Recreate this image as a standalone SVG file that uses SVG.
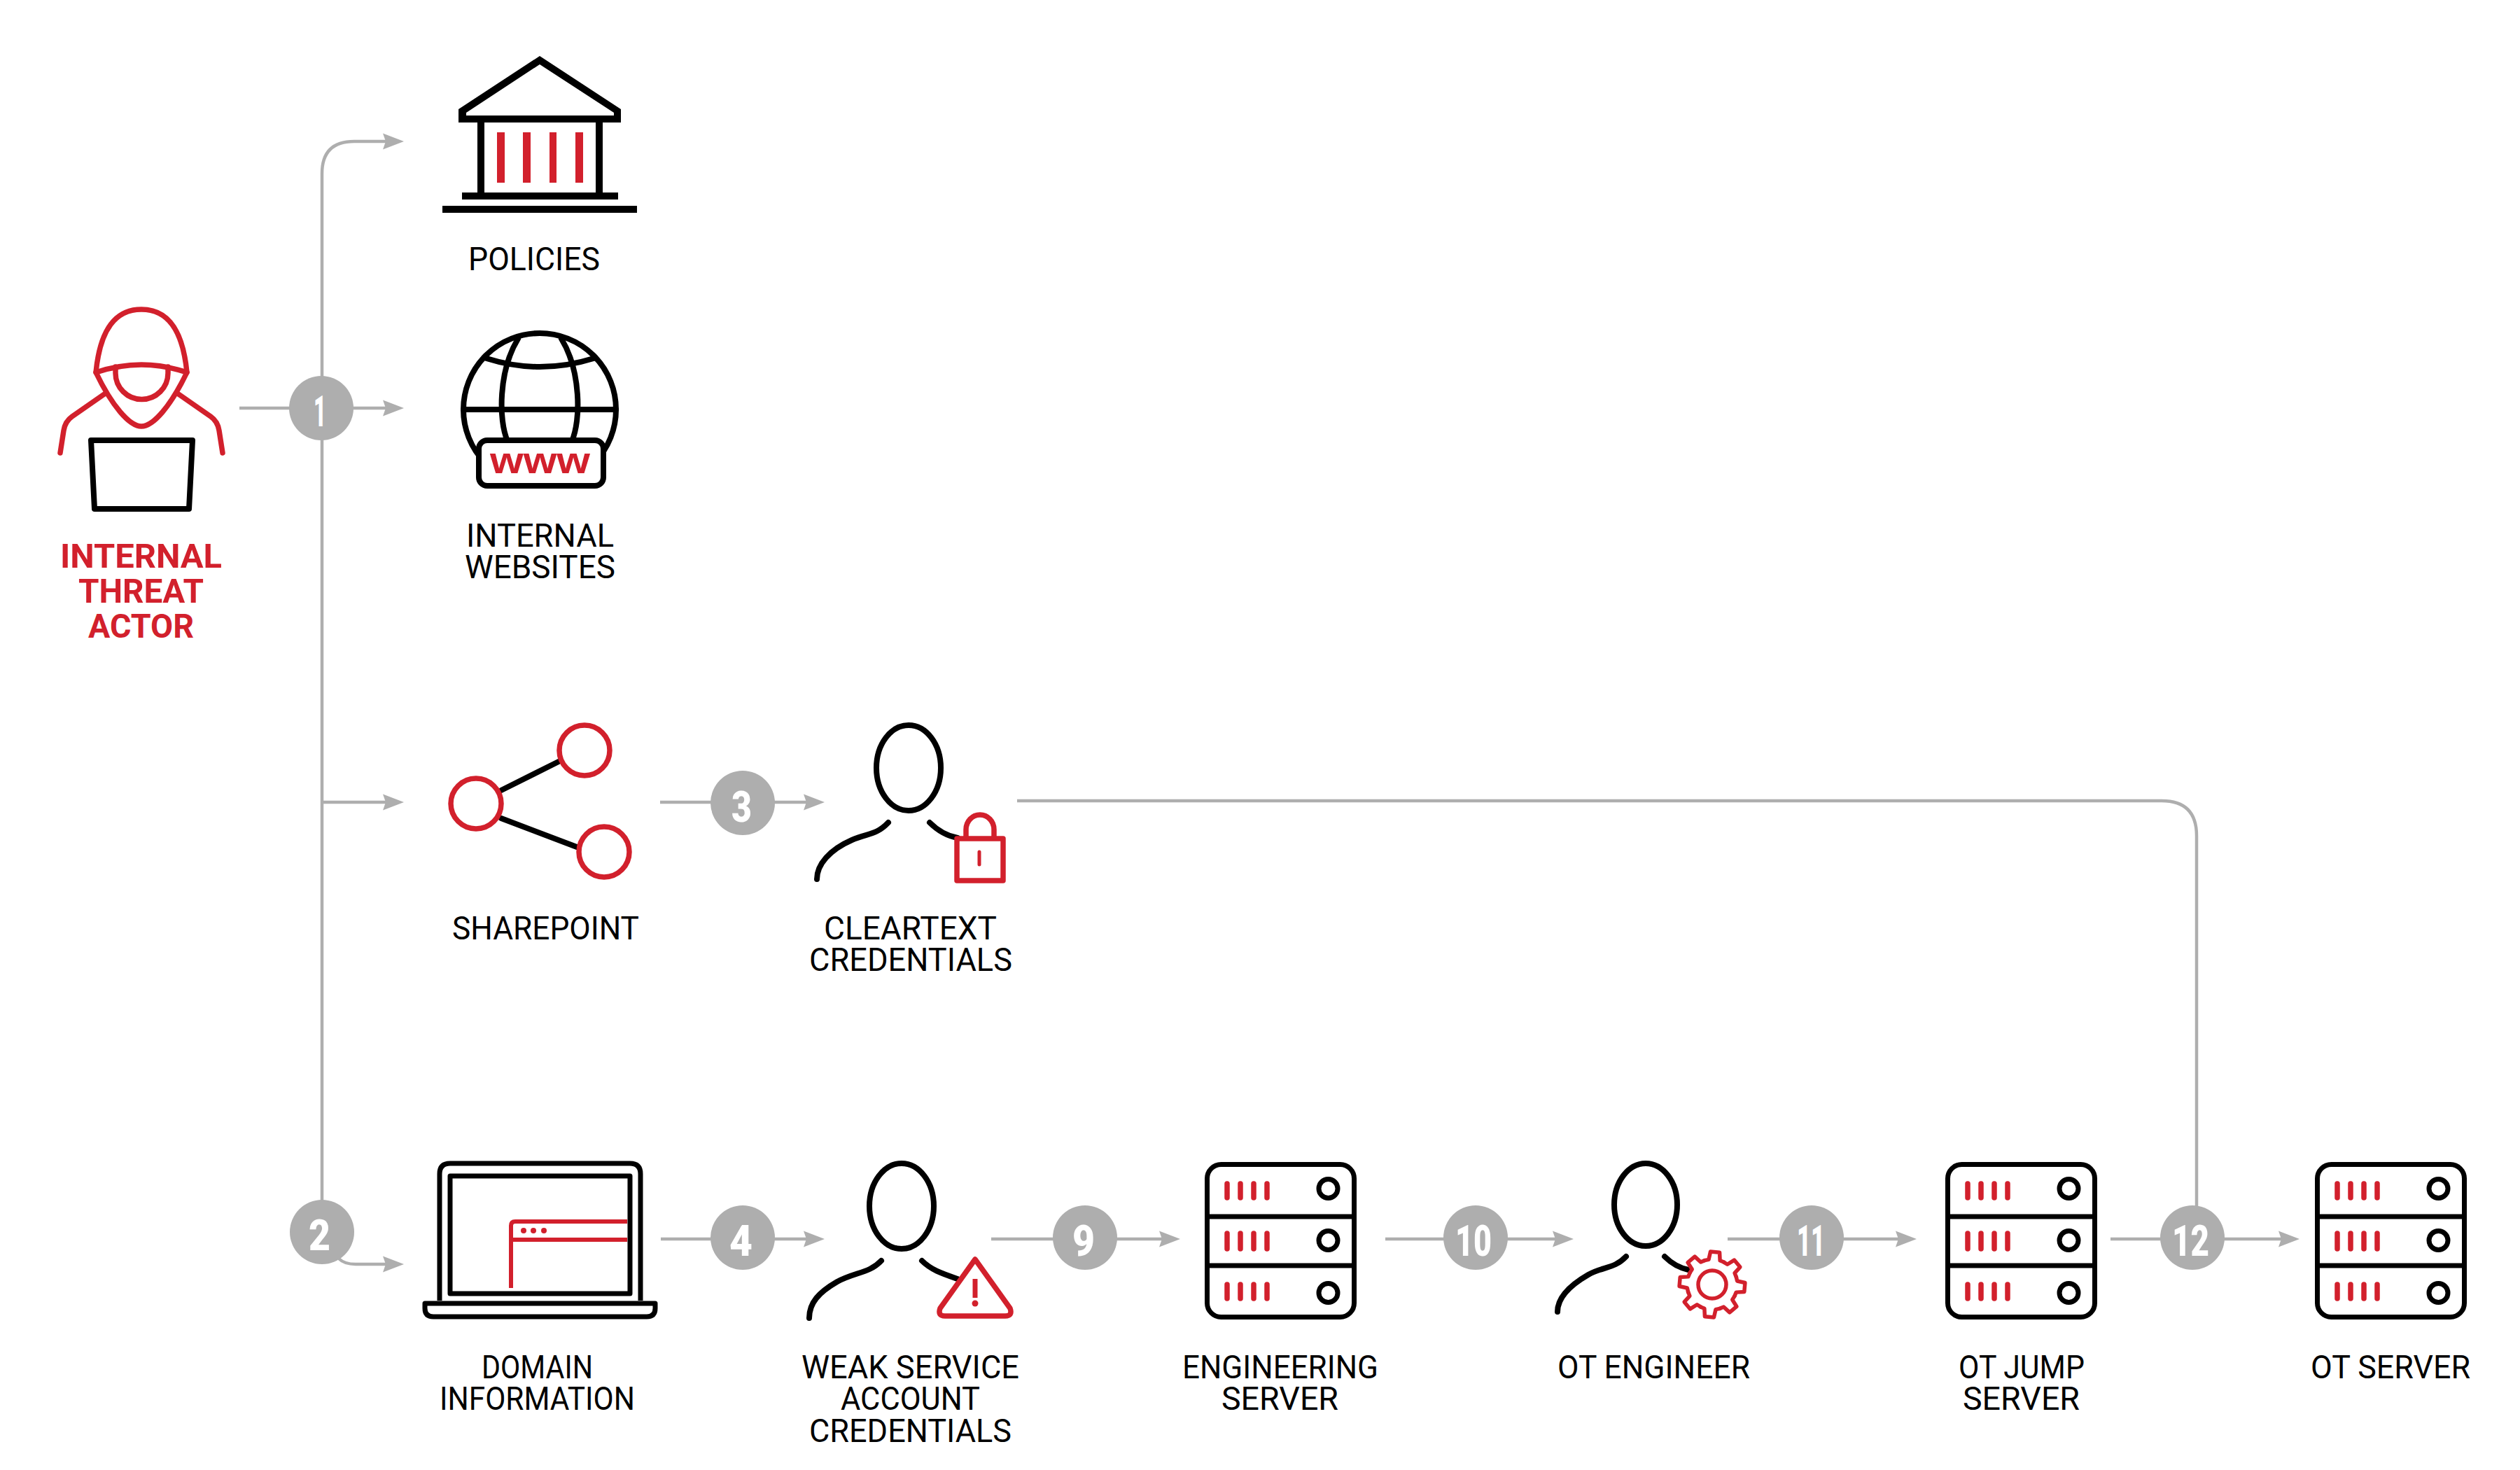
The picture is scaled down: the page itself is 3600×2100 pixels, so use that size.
<svg xmlns="http://www.w3.org/2000/svg" xmlns:xlink="http://www.w3.org/1999/xlink" width="3600" height="2100" viewBox="0 0 3600 2100">
<style>
.k{fill:none;stroke:#000;stroke-width:8;stroke-linecap:round;stroke-linejoin:round}
.r{fill:none;stroke:#d2202c;stroke-width:7.5;stroke-linecap:round;stroke-linejoin:round}
.g{fill:none;stroke:#d2202c;stroke-width:5.5;stroke-linecap:round;stroke-linejoin:round}
.c{fill:none;stroke:#aeaeae;stroke-width:4.5}
.b{fill:#aeaeae}
.red{fill:#d2202c}
.l{font-family:Roboto,"Liberation Sans",sans-serif;font-size:46px;fill:#000}
.t{font-family:Roboto,"Liberation Sans",sans-serif;font-size:49px;font-weight:700;fill:#d2202c}
.n{font-family:Roboto,"Liberation Sans",sans-serif;font-size:62px;font-weight:900;fill:#fff}
</style>
<defs>
<marker id="ah" markerUnits="userSpaceOnUse" markerWidth="32" markerHeight="26" viewBox="0 -13 32 26" refX="19" refY="0" orient="auto"><path d="M0,-11.5L30,0L0,11.5L4,0Z" fill="#aeaeae"/></marker>
<g id="server">
<rect x="3.5" y="3.5" width="210" height="218" rx="20" fill="#fff" stroke="#000" stroke-width="7"/>
<path d="M3,78H214M3,148H214" stroke="#000" stroke-width="7" fill="none"/>
<path d="M32,31V51M51,31V51M70,31V51M89,31V51M32,102V124M51,102V124M70,102V124M89,102V124M32,175V195M51,175V195M70,175V195M89,175V195" stroke="#d2202c" stroke-width="7.5" stroke-linecap="round" fill="none"/>
<circle cx="176.5" cy="38" r="13.5" fill="none" stroke="#000" stroke-width="7"/>
<circle cx="176.5" cy="112" r="13.5" fill="none" stroke="#000" stroke-width="7"/>
<circle cx="176.5" cy="187" r="13.5" fill="none" stroke="#000" stroke-width="7"/>
</g>
<path id="gs" d="M-13.78,-33.26L-8.1,-35.08L-6.54,-46.54L6.54,-46.54L8.1,-35.08L13.78,-33.26" class="g"/>
</defs>

<g id="connectors">
<path class="c" d="M342,583H566" marker-end="url(#ah)"/>
<path class="c" d="M506,202Q460,202 460,248V1760"/>
<path class="c" d="M506,202H566" marker-end="url(#ah)"/>
<path class="c" d="M460,1146H566" marker-end="url(#ah)"/>
<path class="c" d="M484,1798Q492,1806 508,1806H566" marker-end="url(#ah)"/>
<path class="c" d="M943,1146H1167" marker-end="url(#ah)"/>
<path class="c" d="M1453,1144H3088Q3138,1144 3138,1194V1730"/>
<path class="c" d="M944,1770H1167" marker-end="url(#ah)"/>
<path class="c" d="M1416,1770H1675" marker-end="url(#ah)"/>
<path class="c" d="M1979,1770H2237" marker-end="url(#ah)"/>
<path class="c" d="M2468,1770H2727" marker-end="url(#ah)"/>
<path class="c" d="M3015,1770H3274" marker-end="url(#ah)"/>
</g>

<g id="badges">
<g id="badge-1"><circle class="b" cx="459" cy="583" r="46"/><text class="n" x="448" y="609" textLength="18" lengthAdjust="spacingAndGlyphs">1</text></g>
<g id="badge-2"><circle class="b" cx="460" cy="1760" r="46"/><text class="n" x="441" y="1786" textLength="31" lengthAdjust="spacingAndGlyphs">2</text></g>
<g id="badge-3"><circle class="b" cx="1061" cy="1147" r="46"/><text class="n" x="1045" y="1174" textLength="29" lengthAdjust="spacingAndGlyphs">3</text></g>
<g id="badge-4"><circle class="b" cx="1061" cy="1768" r="46"/><text class="n" x="1042" y="1794" textLength="33" lengthAdjust="spacingAndGlyphs">4</text></g>
<g id="badge-9"><circle class="b" cx="1550" cy="1768" r="46"/><text class="n" x="1532" y="1794" textLength="32" lengthAdjust="spacingAndGlyphs">9</text></g>
<g id="badge-10"><circle class="b" cx="2108" cy="1768" r="46"/><text class="n" x="2079" y="1794" textLength="52" lengthAdjust="spacingAndGlyphs">10</text></g>
<g id="badge-11"><circle class="b" cx="2588" cy="1768" r="46"/><text class="n" x="2567" y="1794" textLength="40" lengthAdjust="spacingAndGlyphs">11</text></g>
<g id="badge-12"><circle class="b" cx="3132" cy="1768" r="46"/><text class="n" x="3103" y="1794" textLength="53" lengthAdjust="spacingAndGlyphs">12</text></g>
</g>

<g id="internal-threat-actor">
<path class="r" d="M137,532C143,470 165,442 202,442C239,442 261,470 267,532C244,580 219,609 202,609C185,609 160,580 137,532Z"/>
<path class="r" d="M137,532Q170,521 202,521Q234,521 267,532"/>
<path class="r" d="M165,524V533A37.5,37.5 0 0 0 240,533V524"/>
<path class="r" d="M149,563L103,595Q93,602 91,615L86,647M255,563L301,595Q311,602 313,615L318,647"/>
<path class="k" d="M130,629H275L270,727H135Z"/>
<text class="t" x="86" y="811" textLength="231" lengthAdjust="spacingAndGlyphs">INTERNAL</text>
<text class="t" x="112" y="861" textLength="179" lengthAdjust="spacingAndGlyphs">THREAT</text>
<text class="t" x="126" y="911" textLength="151" lengthAdjust="spacingAndGlyphs">ACTOR</text>
</g>

<g id="policies">
<path fill-rule="evenodd" d="M771,80L887,156V175H655V156ZM771,92L666,161V165H877V161Z" fill="#000"/>
<path d="M682,175H692V275H682ZM851,175H861V275H851ZM660,275H883V285H660ZM632,294H910V304H632Z" fill="#000"/>
<path class="red" d="M710,189H721V261H710ZM747,189H758V261H747ZM785,189H795V261H785ZM822,189H833V261H822Z"/>
<text class="l" x="669" y="386" textLength="188" lengthAdjust="spacingAndGlyphs">POLICIES</text>
</g>

<g id="internal-websites">
<circle class="k" cx="771" cy="585" r="109"/>
<path class="k" d="M662,585H880"/>
<path class="k" d="M740,484C712,530 712,600 725,630M802,484C830,530 830,600 817,630"/>
<path class="k" d="M695,512Q771,536 848,512"/>
<rect x="684" y="629" width="178" height="65" rx="12" fill="#fff" stroke="#000" stroke-width="8"/>
<text x="700" y="676" textLength="143" lengthAdjust="spacingAndGlyphs" font-family="'Liberation Sans',sans-serif" font-size="53" font-weight="700" fill="#d2202c">www</text>
<text class="l" x="666" y="781" textLength="211" lengthAdjust="spacingAndGlyphs">INTERNAL</text>
<text class="l" x="664" y="826" textLength="215" lengthAdjust="spacingAndGlyphs">WEBSITES</text>
</g>

<g id="sharepoint">
<path class="k" d="M716,1129L798,1088M716,1169L824,1210" stroke-linecap="butt"/>
<circle class="r" cx="835" cy="1072" r="36"/>
<circle class="r" cx="680" cy="1148" r="36"/>
<circle class="r" cx="863" cy="1217" r="36"/>
<text class="l" x="646" y="1342" textLength="267" lengthAdjust="spacingAndGlyphs">SHAREPOINT</text>
</g>

<g id="cleartext-credentials">
<ellipse class="k" cx="1298" cy="1097" rx="46" ry="61"/>
<path class="k" d="M1269,1175C1252,1193 1240,1190 1217,1200C1185,1214 1167,1235 1167,1256M1328,1175C1340,1187 1352,1194 1368,1197"/>
<rect class="r" x="1367" y="1198" width="66" height="60"/>
<path class="r" d="M1380,1196V1185A20,21 0 0 1 1420,1185V1196"/>
<path class="r" d="M1399,1217V1235" style="stroke-width:5"/>
<text class="l" x="1177" y="1342" textLength="247" lengthAdjust="spacingAndGlyphs">CLEARTEXT</text>
<text class="l" x="1156" y="1387" textLength="290" lengthAdjust="spacingAndGlyphs">CREDENTIALS</text>
</g>

<g id="domain-information">
<path d="M628,1858V1677Q628,1662 643,1662H900Q915,1662 915,1677V1858" fill="none" stroke="#000" stroke-width="7"/>
<rect x="643" y="1680" width="257" height="168" fill="none" stroke="#000" stroke-width="7" stroke-linejoin="round"/>
<path d="M730,1840V1751Q730,1745 736,1745H896M730,1771H896" fill="none" stroke="#d2202c" stroke-width="6"/>
<circle class="red" cx="748" cy="1758" r="4"/><circle class="red" cx="762" cy="1758" r="4"/><circle class="red" cx="777" cy="1758" r="4"/>
<path d="M607,1862H936V1869Q936,1881 924,1881H619Q607,1881 607,1869Z" fill="#fff" stroke="#000" stroke-width="7" stroke-linejoin="round"/>
<text class="l" x="688" y="1969" textLength="159" lengthAdjust="spacingAndGlyphs">DOMAIN</text>
<text class="l" x="628" y="2014" textLength="279" lengthAdjust="spacingAndGlyphs">INFORMATION</text>
</g>

<g id="weak-service-account-credentials">
<ellipse class="k" cx="1288" cy="1723" rx="46" ry="61"/>
<path class="k" d="M1259,1801C1242,1819 1222,1817 1196,1831C1170,1846 1156,1861 1156,1883M1317,1801C1330,1814 1345,1819 1368,1827"/>
<path class="r" d="M1393,1799L1443,1869Q1447,1880 1436,1880H1350Q1339,1880 1343,1869Z"/>
<path d="M1393,1827V1854" stroke="#d2202c" stroke-width="7" fill="none"/>
<circle class="red" cx="1393" cy="1862" r="4.5"/>
<text class="l" x="1145" y="1969" textLength="311" lengthAdjust="spacingAndGlyphs">WEAK SERVICE</text>
<text class="l" x="1201" y="2014" textLength="199" lengthAdjust="spacingAndGlyphs">ACCOUNT</text>
<text class="l" x="1156" y="2060" textLength="289" lengthAdjust="spacingAndGlyphs">CREDENTIALS</text>
</g>

<g id="engineering-server">
<use href="#server" x="1721" y="1660"/>
<text class="l" x="1689" y="1969" textLength="280" lengthAdjust="spacingAndGlyphs">ENGINEERING</text>
<text class="l" x="1745" y="2014" textLength="167" lengthAdjust="spacingAndGlyphs">SERVER</text>
</g>

<g id="ot-engineer">
<ellipse class="k" cx="2351" cy="1721" rx="45" ry="59"/>
<path class="k" d="M2323,1795C2306,1813 2290,1809 2269,1821C2243,1836 2225,1853 2225,1874M2378,1795C2388,1805 2398,1811 2412,1814"/>
<g transform="translate(2446,1835) rotate(5)">
<use href="#gs"/><use href="#gs" transform="rotate(45)"/><use href="#gs" transform="rotate(90)"/><use href="#gs" transform="rotate(135)"/><use href="#gs" transform="rotate(180)"/><use href="#gs" transform="rotate(225)"/><use href="#gs" transform="rotate(270)"/><use href="#gs" transform="rotate(315)"/>
</g>
<circle class="g" cx="2446" cy="1835" r="20"/>
<text class="l" x="2225" y="1969" textLength="275" lengthAdjust="spacingAndGlyphs">OT ENGINEER</text>
</g>

<g id="ot-jump-server">
<use href="#server" x="2779" y="1660"/>
<text class="l" x="2798" y="1969" textLength="180" lengthAdjust="spacingAndGlyphs">OT JUMP</text>
<text class="l" x="2804" y="2014" textLength="167" lengthAdjust="spacingAndGlyphs">SERVER</text>
</g>

<g id="ot-server">
<use href="#server" x="3307" y="1660"/>
<text class="l" x="3301" y="1969" textLength="228" lengthAdjust="spacingAndGlyphs">OT SERVER</text>
</g>
</svg>
